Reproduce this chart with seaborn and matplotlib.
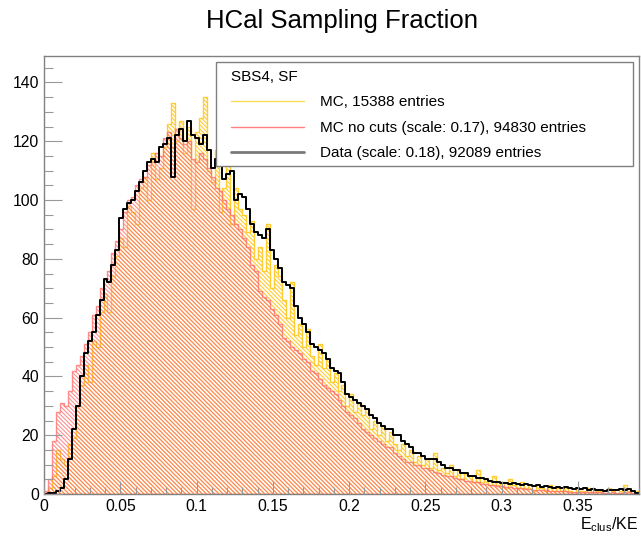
import numpy as np
import pandas as pd
import matplotlib
matplotlib.use("Agg")
import matplotlib.pyplot as plt
from matplotlib.lines import Line2D
from matplotlib.patches import Rectangle
from matplotlib.ticker import MultipleLocator, FormatStrFormatter
import seaborn as sns

# ---------------- data ----------------
x_min, x_max, n_bins = 0.0, 0.39, 150

data_counts = [
    0, 0.3, 0.5, 1, 2, 5, 12, 22, 30, 40,
    48, 52, 55, 61, 66, 73, 72, 78, 83, 94,
    97, 99, 100, 103, 106, 110, 113, 114, 113, 118,
    119, 121, 108, 122, 124, 120, 127, 122, 121, 119,
    122, 117, 111, 114, 113, 107, 109, 110, 100, 102,
    101, 97, 92, 89, 88, 87, 90, 83, 80, 77,
    72, 71, 70, 64, 60, 58, 55, 51, 50, 49,
    48, 46, 43, 42, 41, 38, 34, 33, 32, 31,
    30, 29, 27, 26, 24, 23, 22, 22, 20, 20,
    18, 17, 16, 14, 14, 13, 12, 12, 12, 11,
    10, 9, 9, 8, 8, 7, 7, 6, 6, 5.5,
    5.5, 5, 4.5, 4, 4, 3.7, 3.7, 3.5, 3.7, 3.4,
    3.2, 3.5, 3, 2.8, 3, 2.5, 2.6, 2.4, 2.2, 2.5,
    2, 2.3, 2, 1.8, 2.1, 1.7, 1.9, 1.5, 1.6, 1.4,
    1.3, 1.0, 1.2, 1.5, 1.4, 1.7, 1.3, 1.6, 1.0, 0.4,
]

mc_nocuts_counts = [
    1, 5, 18, 28, 31, 30, 35, 42, 44, 47,
    51, 55, 61, 64, 70, 73, 76, 82, 86, 90,
    96, 100, 101, 105, 107, 108, 112, 113, 116, 115,
    121, 123, 118, 124, 121, 119, 120, 114, 113, 116,
    114, 111, 108, 104, 103, 100, 97, 95, 92, 90,
    87, 84, 78, 76, 69, 67, 66, 63, 61, 58,
    53, 52, 50, 49, 48, 46, 45, 42, 41, 39,
    37, 36, 35, 34, 32, 30, 28, 27, 26, 24,
    22, 21, 20, 19, 18, 17, 16, 16, 14, 13,
    12, 11, 11, 10, 10, 9, 9, 8, 7.5, 7,
    6.5, 6, 6, 5.5, 5, 5, 4.5, 4.5, 4, 4,
    3.5, 3.4, 3.2, 3, 2.8, 2.6, 2.5, 2.3, 2.2, 2,
    1.9, 1.8, 1.6, 1.5, 1.4, 1.3, 1.2, 1.1, 1.0, 1.0,
    0.9, 0.9, 0.8, 0.8, 0.7, 0.7, 0.7, 0.6, 0.6, 0.6,
    0.6, 0.5, 0.5, 0.6, 0.5, 0.5, 0.7, 0.6, 0.5, 0.3,
]

mc_counts = [
    0, 2, 6, 15, 12, 10, 17, 19, 30, 37,
    44, 38, 52, 50, 62, 68, 62, 74, 81, 87,
    84, 98, 96, 92, 104, 108, 100, 116, 107, 111,
    118, 126, 133, 120, 127, 116, 125, 97, 123, 128,
    135, 110, 106, 117, 96, 104, 112, 92, 104, 97,
    95, 89, 93, 80, 84, 76, 92, 70, 78, 74,
    66, 60, 72, 54, 58, 50, 56, 47, 44, 51,
    43, 46, 38, 41, 35, 37, 30, 34, 28, 31,
    27, 29, 22, 25, 20, 23, 18, 21, 17, 15,
    17, 13, 15, 11, 13, 10, 12, 9, 14, 8,
    9, 7, 10, 6, 8, 5, 7, 6, 4, 8,
    4, 5, 3, 6, 3, 4, 2, 5, 3, 2,
    4, 2, 3, 1, 3, 2, 1, 3, 1, 2,
    1, 2, 1, 0, 2, 1, 1, 2, 0, 1,
    1, 0, 2, 1, 0, 1, 3, 1, 0, 1,
]

title_text = "HCal Sampling Fraction"
legend_title = "SBS4, SF"
legend_labels = ["MC, 15388 entries",
                 "MC no cuts (scale: 0.17), 94830 entries",
                 "Data (scale: 0.18), 92089 entries"]
x_ticks = [0, 0.05, 0.1, 0.15, 0.2, 0.25, 0.3, 0.35]
y_ticks = [0, 20, 40, 60, 80, 100, 120, 140]

# ---------------- style ----------------
sns.set_theme(style="ticks")
plt.rcParams["font.family"] = ["Liberation Sans", "DejaVu Sans"]
plt.rcParams["text.color"] = "black"
plt.rcParams["mathtext.fontset"] = "custom"
plt.rcParams["mathtext.rm"] = "Liberation Sans"
plt.rcParams["mathtext.it"] = "Liberation Sans"
plt.rcParams["hatch.linewidth"] = 0.8

edges = np.linspace(x_min, x_max, n_bins + 1)
centers = 0.5 * (edges[:-1] + edges[1:])
bin_list = [float(e) for e in edges]

df = pd.DataFrame({"x": centers,
                   "mc": np.asarray(mc_counts, dtype=float),
                   "nocuts": np.asarray(mc_nocuts_counts, dtype=float),
                   "data": np.asarray(data_counts, dtype=float)})

W, H = 641, 538
fig = plt.figure(figsize=(W / 100, H / 100), dpi=100)
ax = fig.add_axes([44 / W, 44 / H, 595 / W, 438 / H])

yellow = (1.0, 0.80, 0.20, 1.0)
red = (1.0, 0.42, 0.42, 0.75)
hatch = "\\" * 8

def hatched(col, color):
    sns.histplot(data=df, x="x", weights=col, bins=bin_list, element="step",
                 fill=True, ax=ax, color=color[:3])
    poly = ax.collections[-1]
    poly.set_alpha(None)
    poly.set_facecolor("none")
    poly.set_edgecolor(color)
    poly.set_hatch(hatch)
    poly.set_linewidth(1.0)

hatched("mc", yellow)
hatched("nocuts", red)
sns.histplot(data=df, x="x", weights="data", bins=bin_list, element="step",
             fill=False, ax=ax, color="black", linewidth=1.4)

ax.set_xlim(x_min, x_max)
ax.set_ylim(0, 149)
ax.set_xlabel("")
ax.set_ylabel("")
ax.set_xticks(x_ticks)
ax.set_yticks(y_ticks)
ax.xaxis.set_major_formatter(FormatStrFormatter("%g"))
ax.xaxis.set_minor_locator(MultipleLocator(0.01))
ax.yaxis.set_minor_locator(MultipleLocator(5))
ax.set_axisbelow(False)
for s in ax.spines.values():
    s.set_color("#808080")
    s.set_linewidth(1.0)
    s.set_visible(True)
ax.tick_params(axis="both", which="both", direction="in", colors="#999999",
               labelcolor="black", labelsize=11.3, width=0.8,
               top=False, right=False)
ax.tick_params(axis="y", which="major", length=13, pad=3.5)
ax.tick_params(axis="y", which="minor", length=6.5)
ax.tick_params(axis="x", which="major", length=9.5, pad=3.5)
ax.tick_params(axis="x", which="minor", length=5)

# x-axis title
fig.text(638 / W, 1 - 529 / H, r"$\mathregular{E_{clus}/KE}$", ha="right",
         va="baseline", fontsize=11.5, color="black")

# title
fig.text(342 / W, 1 - 28 / H, title_text, ha="center", va="baseline",
         fontsize=18.5, color="black")

# legend box
box = Rectangle((216 / W, 1 - 166 / H), (633 - 216) / W, (166 - 62) / H,
                transform=fig.transFigure, facecolor="white",
                edgecolor="#808080", linewidth=1.0, zorder=5)
fig.add_artist(box)
handles = [Line2D([], [], color="#f8dc5a", lw=1.0),
           Line2D([], [], color="#ff8080", lw=1.0),
           Line2D([], [], color="#7a7a7a", lw=2.0)]
leg = fig.legend(handles, legend_labels, title=legend_title,
                 loc="upper left", bbox_to_anchor=(231 / W, 1 - 70 / H),
                 bbox_transform=fig.transFigure, frameon=False,
                 fontsize=11, title_fontsize=11, alignment="left",
                 borderpad=0, borderaxespad=0, handlelength=4.8,
                 handletextpad=1.05, labelspacing=0.75)
leg.set_zorder(6)
for t in leg.get_texts():
    t.set_color("black")
leg.get_title().set_color("black")

fig.savefig("out.png", dpi=100)
